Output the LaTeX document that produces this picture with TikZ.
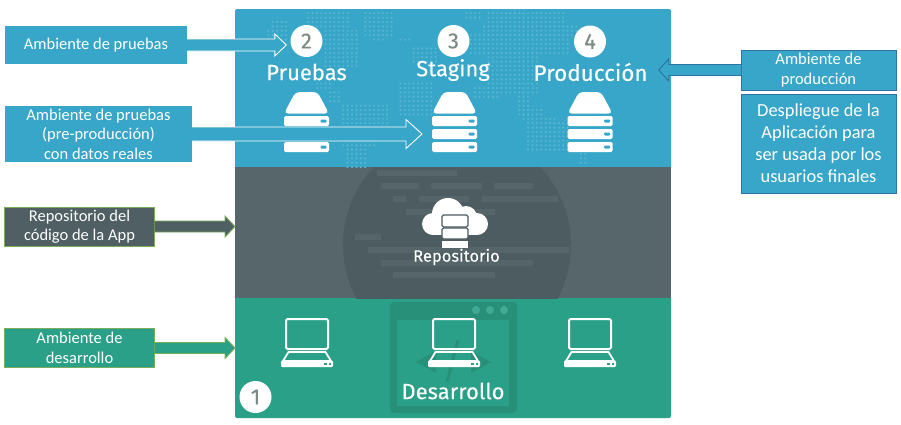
\documentclass[tikz,border=0pt]{standalone}
\usepackage{fontspec}
\setmainfont{Carlito}
\newfontfamily\artfont[FakeBold=0.1]{Fira Sans}
\usetikzlibrary{calc}
\definecolor{bandblue}{HTML}{38A6C8}
\definecolor{banddot}{HTML}{58B6D2}
\definecolor{bandgray}{HTML}{56666A}
\definecolor{boxgray}{HTML}{4F5F64}
\definecolor{graydark}{HTML}{4C5C61}
\definecolor{grayline}{HTML}{566569}
\definecolor{bandgreen}{HTML}{2BA088}
\definecolor{greendark}{HTML}{289079}
\definecolor{digit}{HTML}{7C8C80}
\definecolor{edgegreen}{HTML}{78AE5E}
\definecolor{edgeblue}{HTML}{2F72A4}
\newcommand\blockarrow[6][]{%
  \draw[line join=miter,#1] let \p1=(#2),\p2=(#3),\n1={ifthenelse(\x2>\x1,1,-1)} in
    (\x1,{\y1+#4pt}) -- ({\x2-\n1*#5pt},{\y1+#4pt}) -- ({\x2-\n1*#5pt},{\y1+#6pt})
    -- (\x2,\y1) -- ({\x2-\n1*#5pt},{\y1-#6pt}) -- ({\x2-\n1*#5pt},{\y1-#4pt}) -- (\x1,{\y1-#4pt});}
\newcommand\dotblock[4]{%
  \pgfmathtruncatemacro\ia{round(#1/4.4)}\pgfmathtruncatemacro\ib{round(#2/4.4)}%
  \pgfmathtruncatemacro\ja{round(#3/4.4)}\pgfmathtruncatemacro\jb{round(#4/4.4)}%
  \foreach \i in {\ia,...,\ib}{\foreach \j in {\ja,...,\jb}{\fill[banddot] (4.4*\i,4.4*\j) circle[radius=1.15];}}}
\tikzset{
  x=1pt,y=-1pt,
  bandnode/.style={anchor=north west,inner sep=0pt,outer sep=0pt,minimum width=436pt},
  labelbox/.style={inner sep=0pt,outer sep=0pt,align=center,text=white,font=\fontsize{16.5}{19.5}\selectfont,line width=0.9pt},
  badge/.style={circle,fill=white,minimum size=32pt,inner sep=0pt,text=digit,font=\artfont\fontsize{22}{22}\selectfont},
  arttext/.style={text=white,inner sep=0pt,font=\artfont\fontsize{#1}{#1}\selectfont},
  bluearrow/.style={fill=bandblue,draw=white,line width=0.9pt},
  server/.pic={
    \fill[white,rounded corners=4pt] (-11,0) -- (11,0) -- (22.5,21.5) -- (-22.5,21.5) -- cycle;
    \foreach \t in {24,37,50}{
      \fill[white,rounded corners=1.5pt] (-22.5,\t) rectangle (22.5,\t+10);
      \fill[bandblue,rounded corners=1pt] (14,\t+3.5) rectangle (20,\t+6.5);
    }
  },
  laptop/.pic={
    \draw[white,line width=2pt,rounded corners=1.5pt] (-21,1) rectangle (21,31);
    \draw[white,line width=1.8pt,line join=round] (-18.5,34) -- (18.5,34) -- (24,43) -- (-24,43) -- cycle;
    \fill[white,rounded corners=1.2pt] (-26,42.5) rectangle (26,49);
    \fill[bandgreen] (17,44.5) rectangle (19.5,47);
    \fill[bandgreen] (21.5,44.5) rectangle (24,47);
  },
}
\begin{document}
\begin{tikzpicture}
\useasboundingbox (0,0) rectangle (901,424);
% bands
\node[bandnode,fill=bandblue,rounded corners=2pt,minimum height=160pt] (bandB) at (235,9) {};
\node[bandnode,fill=bandgreen,rounded corners=2pt,minimum height=122pt] (bandG) at (235,296) {};
\node[bandnode,fill=bandgray,minimum height=131pt] (bandR) at (235,167) {};
% world map dots
\begin{scope}
\clip (235,9) rectangle (671,167);
\dotblock{273}{288}{20}{33}\dotblock{268}{285}{30}{42}\dotblock{307}{347}{13}{25}
\dotblock{325}{358}{32}{68}\dotblock{365}{392}{13}{33}\dotblock{372}{382}{32}{38}
\dotblock{402}{410}{38}{39}\dotblock{412}{435}{48}{60}\dotblock{402}{432}{85}{115}
\dotblock{315}{328}{83}{88}\dotblock{328}{340}{93}{103}\dotblock{342}{385}{106}{125}
\dotblock{342}{375}{138}{145}\dotblock{348}{363}{145}{165}
\dotblock{468}{478}{14}{16}\dotblock{488}{562}{13}{25}\dotblock{482}{578}{25}{35}
\dotblock{472}{568}{35}{52}\dotblock{488}{535}{52}{92}\dotblock{475}{498}{90}{97}
\dotblock{517}{527}{93}{113}\dotblock{523}{543}{108}{118}\dotblock{528}{568}{125}{148}
\dotblock{545}{555}{120}{124}\dotblock{580}{583}{152}{163}\dotblock{505}{525}{9}{12}
\end{scope}
% repository background
\begin{scope}
\clip (235,167) rectangle (671,298);
\fill[graydark] (457,245) circle[radius=114];
\foreach \xa/\xb/\ya in {377/457/170,381/419/183,431/482/183,494/533/183,393/406/196,419/469/196,482/558/196,406/495/209,355/381/234,368/570/247,381/533/260,393/495/272}{
  \fill[grayline] (\xa,\ya) rectangle (\xb,\ya+6);
}
\end{scope}
% development window
\fill[greendark,rounded corners=4pt] (390,302) rectangle (517,413);
\fill[bandgreen] (397,320) rectangle (509,406);
\foreach \cx in {476,490,504}{\fill[bandgreen!90!white] (\cx,310) circle[radius=4];}
\fill[greendark] (416,362) -- (436,351) -- (436,373) -- cycle;
\fill[greendark] (491,362) -- (471,351) -- (471,373) -- cycle;
\draw[greendark,line width=3pt] (458,340) -- (447,382);
% servers
\node[minimum width=45pt,minimum height=60pt,inner sep=0pt,outer sep=0pt] (srvS) at (454.5,122) {};
\pic at (306.5,92) {server};
\pic at (454.5,92) {server};
\pic at (590,92) {server};
% laptops
\pic at (307,318) {laptop};
\pic at (454,318) {laptop};
\pic at (590,318) {laptop};
% cloud
\fill[white] (448,214) circle[radius=16];
\fill[white] (466,217) circle[radius=11];
\fill[white] (433,224) circle[radius=11];
\fill[white] (477,224) circle[radius=11];
\fill[white] (433,218) rectangle (477,235);
\draw[graydark,line width=1.3pt,fill=white,rounded corners=1.5pt] (442,215) rectangle (468,227);
\draw[graydark,line width=1.3pt,fill=white,rounded corners=1.5pt] (442,228) rectangle (468,239);
\fill[white] (442,241) rectangle (468,248);
% badges and titles
\node[badge] (n2) at (306.5,41) {2};
\node[badge] (n3) at (453.5,41) {3};
\node[badge] (n4) at (590,41.5) {4};
\node[badge] (n1) at (255.5,397) {1};
\node[arttext=22] (tP) at (306.5,72) {Pruebas};
\node[arttext=22] (tS) at (453,70) {Staging};
\node[arttext=22.5] (tR) at (590.5,72) {Producción};
\node[arttext=16.5] (tG) at (456.5,257) {Repositorio};
\node[arttext=22] (tD) at (453,391) {Desarrollo};
% side boxes
\node[labelbox,fill=bandblue,minimum width=182pt,minimum height=38pt] (a) at (96,45) {Ambiente de pruebas};
\node[labelbox,fill=bandblue,minimum width=187pt,minimum height=56pt] (b) at (98.5,134) {Ambiente de pruebas\\(pre-producción)\\con datos reales};
\node[labelbox,fill=boxgray,draw=edgegreen,minimum width=150pt,minimum height=39pt] (c) at (79.5,226.5) {Repositorio del\\código de la App};
\node[labelbox,fill=bandgreen,draw=edgegreen,minimum width=150pt,minimum height=39pt] (d) at (79.5,348) {Ambiente de\\desarrollo};
\node[labelbox,fill=bandblue,draw=edgeblue,minimum width=155pt,minimum height=40pt] (e) at (818.5,70) {Ambiente de\\producción};
\node[labelbox,fill=bandblue,draw=edgeblue,minimum width=155pt,minimum height=99pt,font=\fontsize{18.4}{22}\selectfont] (f) at (818.5,143.5) {Despliegue de la\\Aplicación para\\ser usada por los\\usuarios finales};
% arrows
\coordinate (tipA) at ($(n2.west)+(-4,0)$);
\coordinate (tipB) at ($(srvS.west)+(-10,0)$);
\coordinate (tipE) at ($(tR.east)+(11,0)$);
\blockarrow[bluearrow]{a.east}{tipA}{6}{11.5}{11}
\blockarrow[bluearrow]{b.east}{tipB}{7}{16}{14.5}
\blockarrow[fill=boxgray,draw=edgegreen,line width=0.9pt]{c.east}{bandR.west}{5.5}{10}{10.5}
\blockarrow[fill=bandgreen,draw=edgegreen,line width=0.9pt]{d.east}{bandG.west}{5.5}{10}{10.5}
\blockarrow[fill=bandblue,draw=edgeblue,line width=0.9pt]{e.west}{tipE}{5.5}{10}{11}
\end{tikzpicture}
\end{document}
